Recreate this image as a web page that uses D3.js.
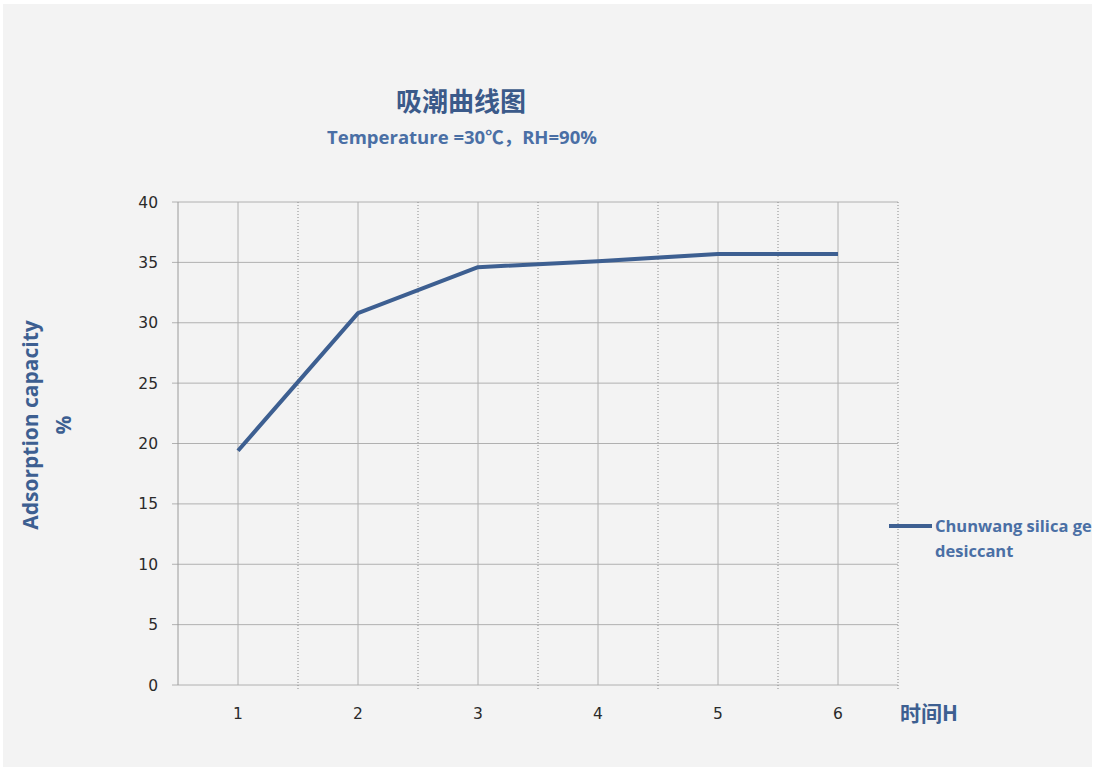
<!DOCTYPE html>
<html>
<head>
<meta charset="utf-8">
<script src="https://cdn.jsdelivr.net/npm/d3@7"></script>
<style>
  html, body { margin: 0; padding: 0; background: #fff; }
  svg { display: block; }
</style>
</head>
<body>
<svg id="chart" width="1099" height="767"></svg>
<script>
const hours = [1, 2, 3, 4, 5, 6];
const capacity = [19.4, 30.8, 34.6, 35.1, 35.7, 35.7];
const yTicks = [0, 5, 10, 15, 20, 25, 30, 35, 40];
const seriesName = ['Chunwang silica gel', 'desiccant'];

const W = 1099, H = 767;
const m = { left: 178, right: 898, top: 202, bottom: 685 };
const blue = '#3d5f91';
const cjk = '"Noto Sans CJK SC", "Noto Sans", sans-serif';
const latin = '"Open Sans", "Noto Sans", sans-serif';
const digits = '"DejaVu Sans", Verdana, sans-serif';

const svg = d3.select('#chart');

svg.append('defs').append('clipPath').attr('id', 'panel-clip')
  .append('rect').attr('x', 3).attr('y', 4).attr('width', 1089).attr('height', 763);

svg.append('rect')
  .attr('x', 3).attr('y', 4).attr('width', 1089).attr('height', 763)
  .attr('fill', '#f3f3f3');

const x = d3.scaleBand().domain(hours).range([m.left, m.right]);
const y = d3.scaleLinear().domain([0, 40]).range([m.bottom, m.top]);

// horizontal grid
svg.append('g').selectAll('line').data(yTicks).enter().append('line')
  .attr('x1', m.left - 6).attr('x2', m.right)
  .attr('y1', d => y(d)).attr('y2', d => y(d))
  .attr('stroke', '#b0b0b0').attr('stroke-width', 1);

// solid verticals at category centres
svg.append('g').selectAll('line').data(hours).enter().append('line')
  .attr('x1', d => x(d) + x.bandwidth() / 2).attr('x2', d => x(d) + x.bandwidth() / 2)
  .attr('y1', m.top).attr('y2', m.bottom)
  .attr('stroke', '#b0b0b0').attr('stroke-width', 1);

// dotted band boundaries
svg.append('g').selectAll('line').data(hours).enter().append('line')
  .attr('x1', d => x(d) + x.bandwidth()).attr('x2', d => x(d) + x.bandwidth())
  .attr('y1', m.top).attr('y2', m.bottom + 6)
  .attr('stroke', '#8a8a8a').attr('stroke-width', 1)
  .attr('stroke-dasharray', '1,2');

// y axis line
svg.append('line')
  .attr('x1', m.left).attr('x2', m.left)
  .attr('y1', m.top).attr('y2', m.bottom)
  .attr('stroke', '#9a9a9a').attr('stroke-width', 1);

// y tick labels
svg.append('g').selectAll('text').data(yTicks).enter().append('text')
  .attr('x', 158).attr('y', d => y(d) + 5.5)
  .attr('text-anchor', 'end')
  .attr('font-family', digits).attr('font-size', 15.5).attr('fill', '#2a2a2a')
  .text(d => d);

// x tick labels
svg.append('g').selectAll('text').data(hours).enter().append('text')
  .attr('x', d => x(d) + x.bandwidth() / 2).attr('y', 719)
  .attr('text-anchor', 'middle')
  .attr('font-family', digits).attr('font-size', 15.5).attr('fill', '#2a2a2a')
  .text(d => d);

// series line
const line = d3.line()
  .x((d, i) => x(hours[i]) + x.bandwidth() / 2)
  .y(d => y(d));

svg.append('path').datum(capacity)
  .attr('d', line)
  .attr('fill', 'none')
  .attr('stroke', blue).attr('stroke-width', 4)
  .attr('stroke-linejoin', 'round');

// titles
svg.append('text')
  .attr('x', 461).attr('y', 111).attr('text-anchor', 'middle')
  .attr('font-family', cjk).attr('font-weight', 'bold').attr('font-size', 26)
  .attr('fill', '#3b5a8a').text('吸潮曲线图');

const sub = svg.append('text')
  .attr('x', 462).attr('y', 144).attr('text-anchor', 'middle')
  .attr('font-weight', 'bold').attr('font-size', 18.5)
  .attr('fill', '#4a6fa5');
sub.append('tspan').attr('font-family', latin).text('Temperature =30');
sub.append('tspan').attr('font-family', cjk).text('℃，');
sub.append('tspan').attr('font-family', latin).text('RH=90%');

// y axis title
const yt = svg.append('text')
  .attr('transform', 'translate(38,425) rotate(-90)')
  .attr('text-anchor', 'middle')
  .attr('font-family', latin).attr('font-weight', 'bold').attr('font-size', 21)
  .attr('fill', blue);
yt.append('tspan').attr('x', 0).attr('dy', 0).text('Adsorption capacity');
yt.append('tspan').attr('x', 0).attr('dy', 33).text('%');

// x axis title
svg.append('text')
  .attr('x', 900).attr('y', 721)
  .attr('font-family', cjk).attr('font-weight', 'bold').attr('font-size', 21)
  .attr('fill', blue).text('时间H');

// legend
const lg = svg.append('g').attr('clip-path', 'url(#panel-clip)');
lg.append('line')
  .attr('x1', 889).attr('x2', 932).attr('y1', 526).attr('y2', 526)
  .attr('stroke', blue).attr('stroke-width', 4);
lg.selectAll('text').data(seriesName).enter().append('text')
  .attr('x', 935).attr('y', (d, i) => 532 + i * 25)
  .attr('font-family', latin).attr('font-weight', 'bold').attr('font-size', 16.5)
  .attr('fill', '#4a6fa5')
  .text(d => d);
</script>
</body>
</html>
